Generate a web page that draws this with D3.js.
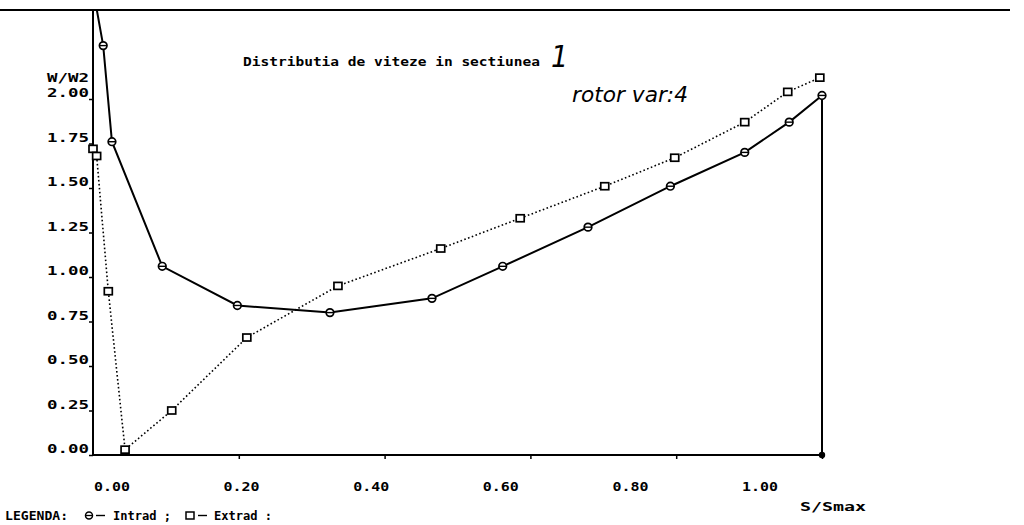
<!DOCTYPE html>
<html><head><meta charset="utf-8">
<script src="https://cdn.jsdelivr.net/npm/d3@7"></script>
<style>
html,body{margin:0;padding:0;background:#fff;}
svg{display:block;}
text{font-family:"DejaVu Sans Mono",monospace;fill:#000;font-weight:bold;}
</style></head><body>
<svg id="c" width="1024" height="525"></svg>
<script>
// ---- data ----
const intradS = [0.0, 0.014, 0.026, 0.095, 0.198, 0.325, 0.465, 0.562, 0.679, 0.792, 0.894, 0.955, 1.0];
const intradW = [2.62, 2.30, 1.76, 1.06, 0.84, 0.80, 0.88, 1.06, 1.28, 1.51, 1.70, 1.87, 2.02];
const extradS = [0.0, 0.005, 0.021, 0.044, 0.108, 0.211, 0.336, 0.477, 0.586, 0.702, 0.798, 0.894, 0.953, 0.997];
const extradW = [1.72, 1.68, 0.92, 0.03, 0.25, 0.66, 0.95, 1.16, 1.33, 1.51, 1.67, 1.87, 2.04, 2.12];
const yTicks = [0, 0.25, 0.5, 0.75, 1.0, 1.25, 1.5, 1.75, 2.0];
const yTickLabels = ["0.00","0.25","0.50","0.75","1.00","1.25","1.50","1.75","2.00"];
const xTicks = [0, 0.2, 0.4, 0.6, 0.8, 1.0];
const xTickLabels = ["0.00","0.20","0.40","0.60","0.80","1.00"];
const yAxisTitle = "W/W2";
const xAxisTitle = "S/Smax";
const titleText = "Distributia de viteze in sectiunea";
const titleNote = "1";
const subNote = "rotor var:4";
const legendHead = "LEGENDA:";
const seriesNames = ["Intrad ;", "Extrad :"];

const svg = d3.select("#c");
const x = d3.scaleLinear().domain([0, 1]).range([93, 822]);
const y = d3.scaleLinear().domain([0, 2.5]).range([455, 10]);
// printed tick labels sit on their own (narrower) spacing on the plotter output
const xLab = d3.scaleLinear().domain([0, 1]).range([112, 760]);

// page top rule
svg.append("line").attr("x1", 0).attr("x2", 1010).attr("y1", y(2.5)).attr("y2", y(2.5))
  .attr("stroke", "#000").attr("stroke-width", 2);

// axes
const yAxis = d3.axisLeft(y).tickValues(yTicks).tickSize(4).tickFormat("");
const gy = svg.append("g").attr("transform", `translate(${x(0)},0)`).call(yAxis);
gy.select(".domain").remove();
gy.selectAll("line").attr("stroke", "#000").attr("stroke-width", 1.5);
svg.append("line").attr("x1", x(0)).attr("x2", x(0)).attr("y1", y(2.5)).attr("y2", y(0))
  .attr("stroke", "#000").attr("stroke-width", 2);

const xAxis = d3.axisBottom(x).tickValues(xTicks.slice(1)).tickSize(4).tickFormat("");
const gx = svg.append("g").attr("transform", `translate(0,${y(0)})`).call(xAxis);
gx.select(".domain").remove();
gx.selectAll("line").attr("stroke", "#000").attr("stroke-width", 1.5);
svg.append("line").attr("x1", x(0)).attr("x2", x(1)).attr("y1", y(0)).attr("y2", y(0))
  .attr("stroke", "#000").attr("stroke-width", 2);

// y tick labels
svg.selectAll("text.yl").data(yTicks).join("text").attr("class", "yl")
  .attr("x", x(0) - 46).attr("y", d => y(d) - 2)
  .attr("textLength", 42).attr("lengthAdjust", "spacingAndGlyphs")
  .attr("font-size", 12).text((d, i) => yTickLabels[i]);
svg.append("text").attr("x", x(0) - 46).attr("y", y(2) - 17)
  .attr("textLength", 42).attr("lengthAdjust", "spacingAndGlyphs")
  .attr("font-size", 12).text(yAxisTitle);

// x tick labels
svg.selectAll("text.xl").data(xTicks).join("text").attr("class", "xl")
  .attr("x", d => xLab(d) - 18).attr("y", 491)
  .attr("textLength", 36).attr("lengthAdjust", "spacingAndGlyphs")
  .attr("font-size", 12).text((d, i) => xTickLabels[i]);
svg.append("text").attr("x", 800).attr("y", 511)
  .attr("textLength", 66).attr("lengthAdjust", "spacingAndGlyphs")
  .attr("font-size", 12).text(xAxisTitle);

// title
svg.append("text").attr("x", 243).attr("y", 66)
  .attr("textLength", 297).attr("lengthAdjust", "spacingAndGlyphs")
  .attr("font-size", 11.5).text(titleText);
svg.append("text").attr("x", 551).attr("y", 67)
  .style("font-family", "'Liberation Sans Narrow','DejaVu Sans Condensed',sans-serif")
  .style("font-style", "italic").style("font-weight", "normal").attr("font-size", 30).text(titleNote);
svg.append("text").attr("x", 572).attr("y", 102)
  .style("font-family", "'Liberation Sans Narrow','DejaVu Sans Condensed',sans-serif")
  .style("font-style", "italic").style("font-weight", "normal").attr("font-size", 22)
  .attr("textLength", 116).attr("lengthAdjust", "spacingAndGlyphs").text(subNote);

// clip for data
svg.append("clipPath").attr("id", "pc").append("rect")
  .attr("x", 0).attr("y", y(2.5)).attr("width", 1024).attr("height", y(0) - y(2.5) + 10);

const plot = svg.append("g").attr("clip-path", "url(#pc)");
const line = d3.line().x(d => x(d[0])).y(d => y(d[1]));
const intrad = intradS.map((s, i) => [s, intradW[i]]);
const extrad = extradS.map((s, i) => [s, extradW[i]]);

plot.append("path").datum(extrad).attr("d", line).attr("fill", "none")
  .attr("stroke", "#000").attr("stroke-width", 1.6).attr("stroke-dasharray", "1.6 2.4");
plot.append("path").datum(intrad).attr("d", line).attr("fill", "none")
  .attr("stroke", "#000").attr("stroke-width", 2);
// closing drop line at trailing edge
const last = intrad[intrad.length - 1];
plot.append("line").attr("x1", x(last[0])).attr("x2", x(last[0]))
  .attr("y1", y(last[1])).attr("y2", y(0)).attr("stroke", "#000").attr("stroke-width", 2);
plot.append("circle").attr("cx", x(last[0])).attr("cy", y(0)).attr("r", 3.2).attr("fill", "#000");

// markers
plot.selectAll("circle.mi").data(intrad).join("circle").attr("class", "mi")
  .attr("cx", d => x(d[0])).attr("cy", d => y(d[1])).attr("r", 3.8)
  .attr("fill", "#fff").attr("stroke", "#000").attr("stroke-width", 1.7);
plot.selectAll("line.mi").data(intrad).join("line").attr("class", "mi")
  .attr("x1", d => x(d[0]) - 3.8).attr("x2", d => x(d[0]) + 3.8)
  .attr("y1", d => y(d[1])).attr("y2", d => y(d[1])).attr("stroke", "#000").attr("stroke-width", 1.4);
plot.selectAll("rect.me").data(extrad).join("rect").attr("class", "me")
  .attr("x", d => x(d[0]) - 4).attr("y", d => y(d[1]) - 3.5).attr("width", 8).attr("height", 7)
  .attr("fill", "#fff").attr("stroke", "#000").attr("stroke-width", 1.7);

// legend
const lg = svg.append("g");
lg.append("text").attr("x", 5).attr("y", 520).attr("textLength", 63)
  .attr("lengthAdjust", "spacingAndGlyphs").attr("font-size", 12).text(legendHead);
lg.append("circle").attr("cx", 89).attr("cy", 515.5).attr("r", 3.5)
  .attr("fill", "#fff").attr("stroke", "#000").attr("stroke-width", 1.5);
lg.append("line").attr("x1", 85.5).attr("x2", 92.5).attr("y1", 515.5).attr("y2", 515.5)
  .attr("stroke", "#000").attr("stroke-width", 1.3);
lg.append("line").attr("x1", 96).attr("x2", 105).attr("y1", 515.5).attr("y2", 515.5)
  .attr("stroke", "#000").attr("stroke-width", 1.4);
lg.append("text").attr("x", 113).attr("y", 520).attr("textLength", 58)
  .attr("lengthAdjust", "spacingAndGlyphs").attr("font-size", 12).text(seriesNames[0]);
lg.append("rect").attr("x", 186).attr("y", 512).attr("width", 8).attr("height", 7)
  .attr("fill", "#fff").attr("stroke", "#000").attr("stroke-width", 1.5);
lg.append("line").attr("x1", 198).attr("x2", 207).attr("y1", 515.5).attr("y2", 515.5)
  .attr("stroke", "#000").attr("stroke-width", 1.4);
lg.append("text").attr("x", 214).attr("y", 520).attr("textLength", 58)
  .attr("lengthAdjust", "spacingAndGlyphs").attr("font-size", 12).text(seriesNames[1]);
</script>
</body></html>
